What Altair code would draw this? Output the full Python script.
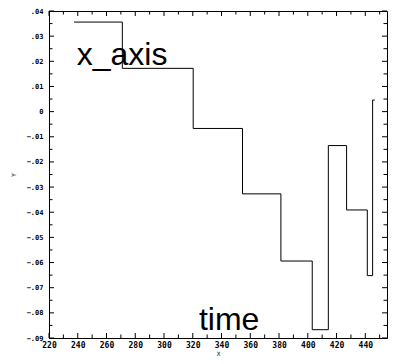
import altair as alt
import pandas as pd
import numpy as np

# step series
step_x = [237.4, 271.0, 320.3, 354.6, 381.3, 403.1, 414.3, 427.0, 441.4, 445.1, 446.6]
step_y = [0.0356, 0.0172, -0.0067, -0.0327, -0.0594, -0.0867, -0.0135, -0.0391, -0.0652, 0.0046, 0.0046]

# annotations
note_text = ["x_axis", "time"]
note_x = [239.3, 324.3]
note_y = [0.0185, -0.0867]

# axes
x_labels = [220, 240, 260, 280, 300, 320, 340, 360, 380, 400, 420, 440, 460]
y_labels = [-0.09, -0.08, -0.07, -0.06, -0.05, -0.04, -0.03, -0.02, -0.01, 0.0, 0.01, 0.02, 0.03, 0.04]
x_minor = list(range(230, 460, 20))
y_minor = [round(v, 3) for v in np.arange(-0.085, 0.04, 0.01)]

# visible x range (the reference's right edge at 460 falls past the page edge)
x_lo, x_hi = 220, 455.1

W, H = 338, 327
TMAJ, TMIN = 5, 3.5

xs = alt.Scale(domain=[x_lo, x_hi], nice=False, zero=False)
ys = alt.Scale(domain=[-0.09, 0.04], nice=False, zero=False)

df = pd.DataFrame({"x": step_x, "y": step_y, "o": list(range(len(step_x)))})
notes = pd.DataFrame({"t": note_text, "x": note_x, "y": note_y})
xvis = [v for v in x_labels if v <= x_hi]
xmvis = [v for v in x_minor if v <= x_hi]
xt = pd.DataFrame({"x": xvis + xmvis,
                   "len": [TMAJ] * len(xvis) + [TMIN] * len(xmvis)})
yt = pd.DataFrame({"y": y_labels + y_minor,
                   "len": [TMAJ] * len(y_labels) + [TMIN] * len(y_minor)})

lab_font = "DejaVu Sans Mono"

xax = alt.Axis(
    title="X", values=xvis, ticks=False, labelFont=lab_font, labelFontSize=8,
    labelFontWeight="bold", labelPadding=3, labelColor="black", grid=False,
    domainColor="black", titleFont=lab_font, titleFontSize=6, titleFontWeight="normal",
    titlePadding=1, labelOverlap=False, labelFlush=False, format="d")
yax = alt.Axis(
    title="Y", values=y_labels, ticks=False, labelFont=lab_font, labelFontSize=7,
    labelFontWeight="bold", labelPadding=6, labelColor="black", grid=False,
    domainColor="black", titleFont=lab_font, titleFontSize=6, titleFontWeight="normal",
    titlePadding=10, labelOverlap=False, labelFlush=False,
    labelExpr="datum.value == 0 ? '0' : replace(format(datum.value, '.2f'), '0.', '.')")

line = alt.Chart(df).mark_line(interpolate="step-after", color="black", strokeWidth=1).encode(
    x=alt.X("x:Q", scale=xs, axis=xax),
    y=alt.Y("y:Q", scale=ys, axis=yax),
    order="o:Q",
)

text = alt.Chart(notes).mark_text(align="left", baseline="alphabetic", font="Liberation Sans",
                                  fontSize=32, color="black").encode(
    x=alt.X("x:Q", scale=xs, axis=xax),
    y=alt.Y("y:Q", scale=ys, axis=yax),
    text="t:N",
)


def ticks_y(right):
    layers = []
    for L in (TMAJ, TMIN):
        sub = alt.Chart(yt).transform_filter(f"datum.len == {L}")
        if right:
            enc = dict(x=alt.value(W - L), x2=alt.value(W))
        else:
            enc = dict(x=alt.value(0), x2=alt.value(L))
        layers.append(sub.mark_rule(color="black", strokeWidth=1).encode(
            y=alt.Y("y:Q", scale=ys, axis=yax), **enc))
    return layers


def ticks_x(top):
    layers = []
    for L in (TMAJ, TMIN):
        sub = alt.Chart(xt).transform_filter(f"datum.len == {L}")
        if top:
            enc = dict(y=alt.value(0), y2=alt.value(L))
        else:
            enc = dict(y=alt.value(H - L), y2=alt.value(H))
        layers.append(sub.mark_rule(color="black", strokeWidth=1).encode(
            x=alt.X("x:Q", scale=xs, axis=xax), **enc))
    return layers


tick_layers = ticks_y(False) + ticks_y(True) + ticks_x(False) + ticks_x(True)

chart = alt.layer(line, text, *tick_layers).properties(
    width=W, height=H,
    background="white",
    autosize=alt.AutoSizeParams(type="none"),
    padding={"left": 41, "top": 3, "right": 1, "bottom": 18},
).configure_view(stroke="black", strokeWidth=1)

chart.save("out.html", embed_options={"renderer": "svg", "actions": False})
